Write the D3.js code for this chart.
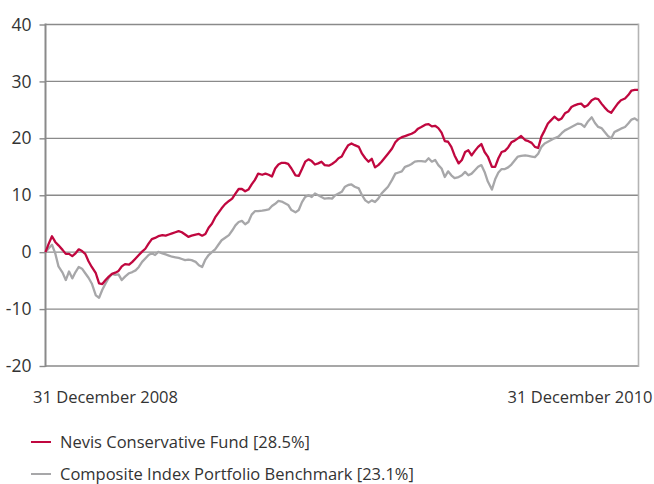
<!DOCTYPE html>
<html>
<head>
<meta charset="utf-8">
<script src="https://cdn.jsdelivr.net/npm/d3@7"></script>
<style>
  html, body { margin: 0; padding: 0; background: #fff; }
  svg { display: block; font-family: "Open Sans", sans-serif; }
</style>
</head>
<body>
<svg id="chart" width="654" height="484"></svg>
<script>
// Cumulative performance (%), 31 Dec 2008 – 31 Dec 2010, sampled every ~4 days
const periodStart = "2008-12-31";
const periodEnd = "2010-12-31";

const fundReturns = [
  0.0, 1.5, 2.8, 1.8, 1.2, 0.4, -0.3, -0.3, -0.7, -0.2,
  0.5, 0.2, -0.3, -1.6, -2.6, -3.7, -5.5, -5.6, -4.9, -4.3,
  -3.8, -3.6, -3.3, -2.5, -2.1, -2.2, -1.7, -1.1, -0.5, 0.1,
  0.6, 1.5, 2.3, 2.5, 2.8, 3.0, 2.9, 3.1, 3.3, 3.5,
  3.7, 3.5, 3.1, 2.7, 2.9, 3.1, 3.2, 2.9, 3.2, 4.3,
  5.0, 6.1, 6.9, 7.7, 8.4, 9.0, 9.4, 10.3, 11.1, 11.1,
  10.7, 11.0, 11.9, 12.7, 13.8, 13.6, 13.8, 13.6, 13.3, 14.7,
  15.4, 15.7, 15.7, 15.5, 14.7, 13.5, 13.4, 14.6, 15.9, 16.3,
  16.0, 15.4, 15.6, 15.9, 15.3, 15.2, 15.5, 15.9, 16.5, 16.8,
  17.9, 18.8, 19.1, 18.8, 18.5, 17.3, 16.5, 15.9, 16.4, 14.9,
  15.3, 15.9, 16.6, 17.3, 18.2, 19.3, 19.9, 20.2, 20.4, 20.6,
  20.8, 21.1, 21.7, 22.0, 22.4, 22.5, 22.1, 22.2, 21.8, 21.0,
  19.5, 19.4, 18.5, 17.0, 15.6, 16.2, 17.6, 17.9, 17.0, 17.8,
  18.5, 19.0, 17.6, 16.8, 15.0, 15.0, 16.5, 17.6, 17.8, 18.4,
  19.3, 19.6, 20.0, 20.4, 19.7, 19.5, 19.2, 18.5, 18.3, 20.3,
  21.4, 22.6, 23.2, 23.8, 23.2, 23.5, 24.4, 24.7, 25.5, 25.8,
  26.0, 26.1, 25.5, 25.8, 26.7, 27.0, 26.9, 26.1, 25.4, 24.8,
  24.5, 25.3, 26.1, 26.7, 27.0, 27.6, 28.4, 28.5, 28.5
];

const benchmarkReturns = [
  0.0, 0.7, 1.3, -0.2, -2.5, -3.6, -4.9, -3.4, -4.6, -3.5,
  -2.6, -2.9, -3.7, -4.5, -5.5, -7.6, -8.0, -6.6, -5.5, -4.5,
  -3.8, -4.0, -3.9, -4.9, -4.3, -3.7, -3.5, -3.2, -2.6, -1.7,
  -1.1, -0.5, -0.2, -0.5, 0.05, -0.2, -0.4, -0.6, -0.8, -0.9,
  -1.0, -1.2, -1.4, -1.3, -1.4, -1.7, -2.3, -2.6, -1.3, -0.5,
  0.0, 0.5, 1.3, 2.1, 2.5, 3.0, 3.8, 4.7, 5.3, 5.5,
  4.9, 5.3, 6.6, 7.2, 7.2, 7.3, 7.4, 7.5, 8.1, 8.5,
  9.0, 8.9, 8.6, 8.3, 7.4, 7.0, 7.4, 8.8, 9.7, 10.0,
  9.7, 10.3, 10.0, 9.7, 9.4, 9.5, 9.4, 10.0, 10.3, 10.6,
  11.5, 11.8, 11.9, 11.5, 11.2, 10.0, 9.1, 8.7, 9.1, 8.8,
  9.4, 10.3, 10.9, 11.5, 12.7, 13.8, 14.0, 14.2, 15.0, 15.2,
  15.5, 15.9, 16.0, 16.0, 15.9, 16.5, 15.9, 16.2, 15.3, 14.7,
  13.2, 14.2, 13.5, 13.0, 13.2, 13.5, 14.1, 13.5, 13.8, 14.4,
  15.0, 15.3, 14.1, 12.4, 11.0, 12.8, 14.0, 14.6, 14.6, 14.9,
  15.4, 16.1, 16.8, 16.9, 17.0, 16.9, 16.8, 16.7, 17.3, 18.5,
  19.1, 19.4, 19.7, 20.0, 20.3, 20.9, 21.4, 21.7, 22.0, 22.3,
  22.6, 22.5, 22.0, 22.9, 23.7, 22.7, 22.0, 21.8, 21.1, 20.4,
  20.0, 21.1, 21.4, 21.7, 22.0, 22.6, 23.3, 23.5, 23.1
];

const yTicks = [-20, -10, 0, 10, 20, 30, 40];
const xTickLabels = ["31 December 2008", "31 December 2010"];
const seriesNames = ["Nevis Conservative Fund [28.5%]", "Composite Index Portfolio Benchmark [23.1%]"];
const seriesColors = ["#c0073f", "#a7a7a9"];

const parse = d3.timeParse("%Y-%m-%d");
const t0 = parse(periodStart), t1 = parse(periodEnd);
const totalDays = d3.timeDay.count(t0, t1);
const n = fundReturns.length;
const dates = d3.range(n).map(i => d3.timeDay.offset(t0, Math.round(i * totalDays / (n - 1))));

const svg = d3.select("#chart");
const plot = { left: 45.5, right: 638, top: 24.5, bottom: 366 };

const x = d3.scaleTime().domain([t0, t1]).range([plot.left, plot.right]);
const y = d3.scaleLinear().domain([-20, 40]).range([plot.bottom, plot.top]);

const gridColor = "#8a8a8a";
const textColor = "#333";

// horizontal gridlines
svg.append("g")
  .selectAll("line")
  .data(yTicks)
  .join("line")
  .attr("x1", plot.left).attr("x2", plot.right)
  .attr("y1", d => y(d)).attr("y2", d => y(d))
  .attr("stroke", gridColor).attr("stroke-width", 1.4);

// right frame edge
svg.append("line")
  .attr("x1", plot.right + 0.5).attr("x2", plot.right + 0.5)
  .attr("y1", plot.top - 1).attr("y2", plot.bottom + 1)
  .attr("stroke", "#b4b4b4").attr("stroke-width", 1.6);

// y axis (plain hyphen for negative labels)
const yAxis = svg.append("g")
  .attr("transform", `translate(${plot.left},0)`)
  .call(d3.axisLeft(y).tickValues(yTicks).tickSize(6).tickPadding(8).tickFormat(d => String(d)));
yAxis.select(".domain").attr("stroke", gridColor).attr("stroke-width", 2)
  .attr("d", `M0,${plot.top - 1}V${plot.bottom + 1}`);
yAxis.selectAll(".tick line").attr("stroke", gridColor).attr("stroke-width", 1.4);
yAxis.selectAll(".tick text")
  .attr("fill", textColor).attr("font-size", 17.5)
  .attr("font-family", "'Open Sans', sans-serif");

// x axis labels (period start and end)
const xAxis = svg.append("g")
  .attr("transform", `translate(0,${plot.bottom})`)
  .call(d3.axisBottom(x).tickValues([t0, t1]).tickSize(0).tickPadding(25)
    .tickFormat((d, i) => xTickLabels[i]));
xAxis.select(".domain").remove();
xAxis.selectAll(".tick text")
  .attr("fill", textColor).attr("font-size", 16.5)
  .attr("font-family", "'Open Sans', sans-serif")
  .attr("text-anchor", (d, i) => i === 0 ? "start" : "end")
  .attr("dx", (d, i) => i === 0 ? -13 : 14);

// performance lines
const line = d3.line()
  .x((d, i) => x(dates[i]))
  .y(d => y(d));

svg.append("path")
  .datum(benchmarkReturns)
  .attr("fill", "none")
  .attr("stroke", seriesColors[1])
  .attr("stroke-width", 2.3)
  .attr("stroke-linejoin", "round")
  .attr("d", line);

svg.append("path")
  .datum(fundReturns)
  .attr("fill", "none")
  .attr("stroke", seriesColors[0])
  .attr("stroke-width", 2.3)
  .attr("stroke-linejoin", "round")
  .attr("d", line);

// legend
const legend = svg.append("g")
  .selectAll("g")
  .data(seriesNames)
  .join("g")
  .attr("transform", (d, i) => `translate(31,${442 + i * 32})`);
legend.append("line")
  .attr("x1", 0).attr("x2", 20).attr("y1", 0).attr("y2", 0)
  .attr("stroke", (d, i) => seriesColors[i]).attr("stroke-width", 2);
legend.append("text")
  .attr("x", 29).attr("y", 6)
  .attr("fill", textColor).attr("font-size", 16.5)
  .text(d => d);
</script>
</body>
</html>
